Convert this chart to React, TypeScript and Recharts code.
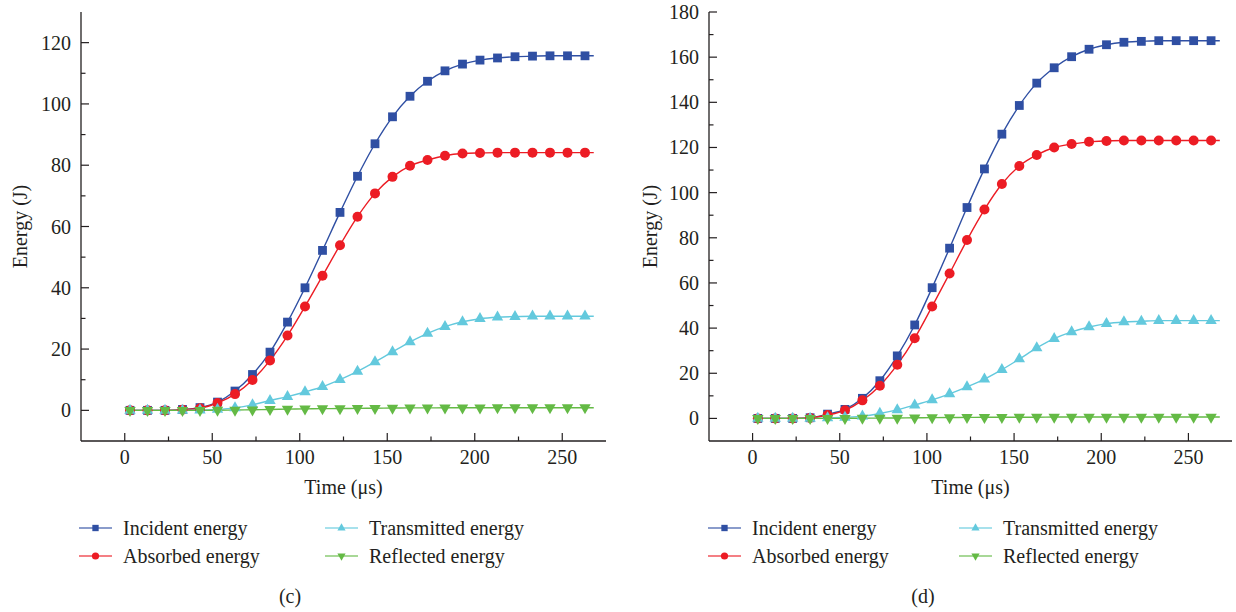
import React from 'react';
import { LineChart, Line, XAxis, YAxis, Legend } from 'recharts';

const FONT = '"Liberation Serif", "Times New Roman", serif';
const INK = '#231f20';

// Time (µs) of each sample; the last one is where the curves end (no marker)
const timeUs = [3, 13, 23, 33, 43, 53, 63, 73, 83, 93, 103, 113, 123, 133, 143, 153, 163, 173, 183, 193, 203, 213, 223, 233, 243, 253, 263, 268];

// Panel (c)
const incidentC = [0, 0, 0, 0.3, 0.9, 2.7, 6.3, 11.7, 19, 28.8, 40, 52.2, 64.6, 76.4, 87, 95.8, 102.5, 107.4, 110.8, 113, 114.3, 115, 115.4, 115.6, 115.7, 115.7, 115.7, 115.7];
const absorbedC = [0, 0, 0, 0.2, 0.7, 2.4, 5.3, 9.9, 16.3, 24.4, 33.9, 43.9, 53.9, 63.2, 70.8, 76.2, 79.8, 81.7, 83.1, 83.8, 84, 84.1, 84.1, 84.1, 84.1, 84.1, 84.1, 84.1];
const transmittedC = [0, 0, 0, 0, 0.1, 0.3, 0.8, 1.8, 3.2, 4.5, 6.0, 7.7, 10.0, 12.7, 15.8, 19.1, 22.3, 25.1, 27.3, 28.9, 29.9, 30.4, 30.6, 30.7, 30.7, 30.7, 30.7, 30.7];
const reflectedC = [0, 0, 0, 0, 0, 0.05, 0.1, 0.2, 0.3, 0.4, 0.5, 0.55, 0.6, 0.65, 0.7, 0.75, 0.8, 0.8, 0.85, 0.85, 0.85, 0.87, 0.87, 0.87, 0.87, 0.87, 0.87, 0.87];

// Panel (d)
const incidentD = [0, 0, 0, 0.3, 1.9, 4, 8.9, 16.7, 27.7, 41.4, 57.9, 75.4, 93.4, 110.5, 125.9, 138.6, 148.5, 155.3, 160.2, 163.5, 165.5, 166.6, 167, 167.3, 167.3, 167.3, 167.3, 167.3];
const absorbedD = [0, 0, 0, 0.2, 1.5, 3.6, 8, 14.5, 23.8, 35.5, 49.6, 64.2, 79, 92.5, 103.8, 111.8, 116.7, 120, 121.5, 122.5, 122.9, 123.1, 123.1, 123.1, 123.1, 123.1, 123.1, 123.1];
const transmittedD = [0, 0, 0, 0, 0.2, 0.5, 1.0, 2.2, 3.8, 5.9, 8.2, 10.9, 14.0, 17.4, 21.6, 26.3, 31.2, 35.3, 38.3, 40.5, 42.0, 42.7, 43.0, 43.3, 43.3, 43.3, 43.3, 43.3];
const reflectedD = [0, 0, 0, 0, 0, 0.05, 0.1, 0.15, 0.2, 0.3, 0.35, 0.4, 0.45, 0.5, 0.5, 0.55, 0.55, 0.6, 0.6, 0.6, 0.6, 0.6, 0.6, 0.6, 0.6, 0.6, 0.6, 0.6];

const xTicks = [0, 25, 50, 75, 100, 125, 150, 175, 200, 225, 250];
const yTicksC = [0, 10, 20, 30, 40, 50, 60, 70, 80, 90, 100, 110, 120];
const yTicksD = [0, 10, 20, 30, 40, 50, 60, 70, 80, 90, 100, 110, 120, 130, 140, 150, 160, 170, 180];

const SERIES = [
  { key: 'incident', name: 'Incident energy', color: '#2f4fa3', shape: 'square' },
  { key: 'absorbed', name: 'Absorbed energy', color: '#ec1c24', shape: 'circle' },
  { key: 'transmitted', name: 'Transmitted energy', color: '#63c9dd', shape: 'up' },
  { key: 'reflected', name: 'Reflected energy', color: '#64ba45', shape: 'down' },
];

const buildRows = (inc: number[], abs: number[], tra: number[], ref: number[]) =>
  timeUs.map((t, i) => ({ t, incident: inc[i], absorbed: abs[i], transmitted: tra[i], reflected: ref[i] }));

const dataC = buildRows(incidentC, absorbedC, transmittedC, reflectedC);
const dataD = buildRows(incidentD, absorbedD, transmittedD, reflectedD);

function markerShape(shape: string, cx: number, cy: number, color: string, scale: number, key?: string) {
  if (shape === 'square') {
    const s = 8.8 * scale;
    return <rect key={key} x={cx - s / 2} y={cy - s / 2} width={s} height={s} fill={color} />;
  }
  if (shape === 'circle') {
    return <circle key={key} cx={cx} cy={cy} r={5 * scale} fill={color} />;
  }
  const w = 11.4 * scale;
  const h = 10 * scale;
  if (shape === 'up') {
    const pts = `${cx},${cy - (2 * h) / 3} ${cx - w / 2},${cy + h / 3} ${cx + w / 2},${cy + h / 3}`;
    return <polygon key={key} points={pts} fill={color} />;
  }
  const pts = `${cx},${cy + (2 * h) / 3} ${cx - w / 2},${cy - h / 3} ${cx + w / 2},${cy - h / 3}`;
  return <polygon key={key} points={pts} fill={color} />;
}

const makeDot = (shape: string, color: string, key: string) => (props: any) => {
  const { cx, cy, index } = props;
  const k = `${key}-${index}`;
  if (index === timeUs.length - 1 || cx == null || cy == null) return <g key={k} />;
  return markerShape(shape, cx, cy, color, 1, k);
};

const YTick = (props: any) => {
  const { x, y, payload } = props;
  const v = payload.value;
  const major = v % 20 === 0;
  return (
    <g>
      <line x1={x} x2={x + (major ? 8 : 4.5)} y1={y} y2={y} stroke={INK} strokeWidth={1.2} />
      {major && (
        <text x={x - 10} y={y + 7} textAnchor="end" fontFamily={FONT} fontSize={20} fill={INK}>
          {v}
        </text>
      )}
    </g>
  );
};

const XTick = (props: any) => {
  const { x, y, payload } = props;
  const v = payload.value;
  const major = v % 50 === 0;
  return (
    <g>
      <line x1={x} x2={x} y1={y} y2={y - (major ? 8 : 4.5)} stroke={INK} strokeWidth={1.2} />
      {major && (
        <text x={x} y={y + 23} textAnchor="middle" fontFamily={FONT} fontSize={20} fill={INK}>
          {v}
        </text>
      )}
    </g>
  );
};

const LegendGrid = ({ payload, cols }: any) => {
  const present = new Set((payload || []).map((p: any) => p.dataKey));
  const items = SERIES.filter((s) => present.size === 0 || present.has(s.key));
  return (
    <svg width={618} height={70} style={{ overflow: 'visible', display: 'block' }}>
      {items.map((s: any, i: number) => {
        const col = Math.floor(i / 2);
        const row = i % 2;
        const x0 = cols[col];
        const cy = 28 + row * 28;
        const mid = x0 + 16.5;
        return (
          <g key={s.key}>
            <line x1={x0} x2={x0 + 33} y1={cy} y2={cy} stroke={s.color} strokeOpacity={0.75} strokeWidth={1.6} />
            {markerShape(s.shape, mid, cy, s.color, 0.72)}
            <text x={x0 + 44} y={cy + 7} fontFamily={FONT} fontSize={20} fill={INK}>
              {s.name}
            </text>
          </g>
        );
      })}
    </svg>
  );
};

type PanelProps = {
  left: number;
  data: any[];
  yDomain: [number, number];
  yTicks: number[];
  marginLeft: number;
  marginRight: number;
  yLabelX: number;
  legendCols: number[];
  caption: string;
  captionX: number;
};

function Panel(p: PanelProps) {
  const plotLeft = p.marginLeft + 60;
  const plotRight = 618 - p.marginRight;
  const xLabelX = (plotLeft + plotRight) / 2;
  return (
    <div style={{ position: 'absolute', left: p.left, top: 0, width: 618, height: 612 }}>
      <LineChart
        width={618}
        height={612}
        data={p.data}
        margin={{ top: 12, right: p.marginRight, bottom: 141, left: p.marginLeft }}
        style={{ overflow: 'visible' }}
      >
        <XAxis
          dataKey="t"
          type="number"
          domain={[-25, 275]}
          ticks={xTicks}
          interval={0}
          height={30}
          tickSize={0}
          tickMargin={0}
          tickLine={false}
          tick={<XTick />}
          axisLine={{ stroke: INK, strokeWidth: 1.3 }}
          allowDataOverflow
        />
        <YAxis
          type="number"
          domain={p.yDomain}
          ticks={p.yTicks}
          interval={0}
          width={60}
          tickSize={0}
          tickMargin={0}
          tickLine={false}
          tick={<YTick />}
          axisLine={{ stroke: INK, strokeWidth: 1.3 }}
          allowDataOverflow
        />
        {SERIES.map((s) => (
          <Line
            key={s.key}
            dataKey={s.key}
            name={s.name}
            type="monotone"
            stroke={s.color}
            strokeWidth={1.4}
            dot={makeDot(s.shape, s.color, s.key)}
            activeDot={false}
            isAnimationActive={false}
          />
        ))}
        <Legend
          layout="horizontal"
          verticalAlign="middle"
          align="center"
          wrapperStyle={{ position: 'absolute', left: 0, top: 500, width: 618, height: 70 }}
          content={(props: any) => <LegendGrid payload={props.payload} cols={p.legendCols} />}
        />
      </LineChart>
      <svg
        width={618}
        height={612}
        style={{ position: 'absolute', left: 0, top: 0, pointerEvents: 'none', overflow: 'visible' }}
      >
        <text
          x={p.yLabelX}
          y={226.5}
          transform={`rotate(-90, ${p.yLabelX}, 226.5)`}
          textAnchor="middle"
          dominantBaseline="central"
          fontFamily={FONT}
          fontSize={20}
          fill={INK}
        >
          Energy (J)
        </text>
        <text x={xLabelX} y={494} textAnchor="middle" fontFamily={FONT} fontSize={20} fill={INK}>
          Time (μs)
        </text>
        <text x={p.captionX} y={603} textAnchor="middle" fontFamily={FONT} fontSize={20} fill={INK}>
          {p.caption}
        </text>
      </svg>
    </div>
  );
}

export default function App() {
  return (
    <div style={{ position: 'absolute', left: 0, top: 0, width: 1236, height: 612, background: '#ffffff', overflow: 'hidden' }}>
      <Panel
        left={0}
        data={dataC}
        yDomain={[-10, 130]}
        yTicks={yTicksC}
        marginLeft={21}
        marginRight={12}
        yLabelX={20}
        legendCols={[79, 325]}
        caption="(c)"
        captionX={290}
      />
      <Panel
        left={618}
        data={dataD}
        yDomain={[-10, 180]}
        yTicks={yTicksD}
        marginLeft={31}
        marginRight={4}
        yLabelX={32}
        legendCols={[90, 341]}
        caption="(d)"
        captionX={305}
      />
    </div>
  );
}
